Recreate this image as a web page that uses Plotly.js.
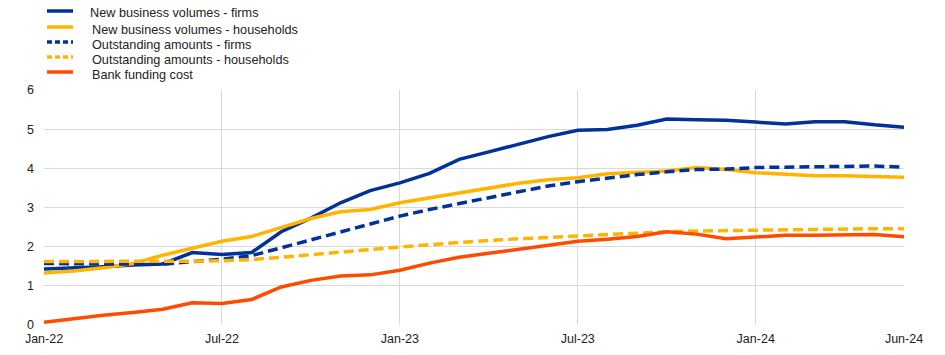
<!DOCTYPE html>
<html>
<head>
<meta charset="utf-8">
<script src="https://cdn.plot.ly/plotly-3.0.1.min.js"></script>
<style>html,body{margin:0;padding:0;background:#fff;}#chart{width:945px;height:355px;}</style>
</head>
<body>
<div id="chart"></div>
<script>
var months = ["Jan-22","Feb-22","Mar-22","Apr-22","May-22","Jun-22","Jul-22","Aug-22","Sep-22","Oct-22","Nov-22","Dec-22",
              "Jan-23","Feb-23","Mar-23","Apr-23","May-23","Jun-23","Jul-23","Aug-23","Sep-23","Oct-23","Nov-23","Dec-23",
              "Jan-24","Feb-24","Mar-24","Apr-24","May-24","Jun-24"];
var tickLabels = ["Jan-22","Jul-22","Jan-23","Jul-23","Jan-24","Jun-24"];
var yTicks = [0,1,2,3,4,5,6];

var newBusinessFirms = [1.43,1.45,1.49,1.53,1.56,1.85,1.80,1.85,2.38,2.73,3.12,3.43,3.63,3.87,4.23,4.42,4.62,4.81,4.97,4.99,5.10,5.26,5.24,5.23,5.18,5.13,5.19,5.19,5.11,5.05];
var newBusinessHouseholds = [1.33,1.38,1.46,1.57,1.78,1.97,2.14,2.26,2.48,2.72,2.89,2.95,3.12,3.25,3.38,3.51,3.62,3.71,3.76,3.86,3.90,3.93,4.02,3.97,3.89,3.84,3.81,3.81,3.80,3.77];
var outstandingFirms = [1.57,1.57,1.56,1.55,1.55,1.62,1.68,1.77,1.97,2.17,2.36,2.57,2.78,2.95,3.10,3.27,3.41,3.55,3.66,3.76,3.84,3.91,3.97,3.98,4.02,4.03,4.04,4.07,4.06,4.03];
var outstandingHouseholds = [1.62,1.62,1.62,1.61,1.61,1.63,1.64,1.67,1.73,1.80,1.85,1.92,1.99,2.05,2.11,2.16,2.20,2.24,2.27,2.31,2.35,2.38,2.40,2.41,2.43,2.45,2.46,2.46,2.46,2.46];
var bankFundingCost = [0.07,0.17,0.25,0.32,0.40,0.57,0.55,0.65,0.97,1.14,1.25,1.28,1.40,1.58,1.73,1.83,1.94,2.04,2.14,2.19,2.26,2.38,2.32,2.20,2.25,2.29,2.29,2.31,2.31,2.25];

var seriesNames = ["New business volumes - firms","New business volumes - households","Outstanding amounts - firms","Outstanding amounts - households","Bank funding cost"];
var seriesData = [newBusinessFirms,newBusinessHouseholds,outstandingFirms,outstandingHouseholds,bankFundingCost];
var colors = ["#003299","#FFB400","#003299","#FFB400","#FF4B00"];
var dashes = ["solid","solid","10px,5px","10px,5px","solid"];
var legendDashes = ["solid","solid","5px,3px","5px,3px","solid"];

var traces = seriesData.map(function(d,i){
  return {x: months, y: d, type: "scatter", mode: "lines", name: seriesNames[i],
          line: {color: colors[i], width: 3.5, dash: dashes[i]}, showlegend: false, hoverinfo: "skip"};
});

// manual legend (pixel layout converted to paper coords)
var plotTop = 90, plotBottom = 325, plotLeft = 44, plotRight = 904;
function py(p){ return (plotBottom - p) / (plotBottom - plotTop); }
function px(p){ return (p - plotLeft) / (plotRight - plotLeft); }
var legLineY = [11, 27, 42, 57, 72];
var legTextY = [13, 30, 45, 60, 75];
var legTextX = [90, 92, 92, 92, 92];
var shapes = [], annotations = [];
seriesNames.forEach(function(n,i){
  shapes.push({type:"line", xref:"paper", yref:"paper", x0:px(47), x1:px(73), y0:py(legLineY[i]), y1:py(legLineY[i]),
               line:{color:colors[i], width:3.5, dash:legendDashes[i]}});
  annotations.push({xref:"paper", yref:"paper", x:px(legTextX[i] - 2), y:py(legTextY[i]), xanchor:"left", yanchor:"middle",
               text:n, showarrow:false, font:{family:"Liberation Sans, Arial, sans-serif", size:12.7, color:"#222"}});
});

var layout = {
  width: 945, height: 355,
  margin: {l: plotLeft, r: 945 - plotRight, t: plotTop, b: 355 - plotBottom, pad: 0},
  paper_bgcolor: "#fff", plot_bgcolor: "#fff",
  font: {family: "Liberation Sans, Arial, sans-serif", size: 12.5, color: "#222"},
  showlegend: false,
  xaxis: {type: "category", range: [0, months.length - 1], tickvals: tickLabels, ticktext: tickLabels,
          showgrid: true, gridcolor: "#d9d9d9", gridwidth: 1, zeroline: false, showline: false,
          ticks: "", ticklabelstandoff: 4, fixedrange: true},
  yaxis: {range: [0, 6], tickvals: yTicks, showgrid: true, gridcolor: "#d9d9d9", gridwidth: 1,
          zeroline: false, showline: false, ticks: "", ticklabelstandoff: 9, fixedrange: true},
  shapes: shapes,
  annotations: annotations
};

Plotly.newPlot("chart", traces, layout, {displayModeBar: false, staticPlot: true});
</script>
</body>
</html>
